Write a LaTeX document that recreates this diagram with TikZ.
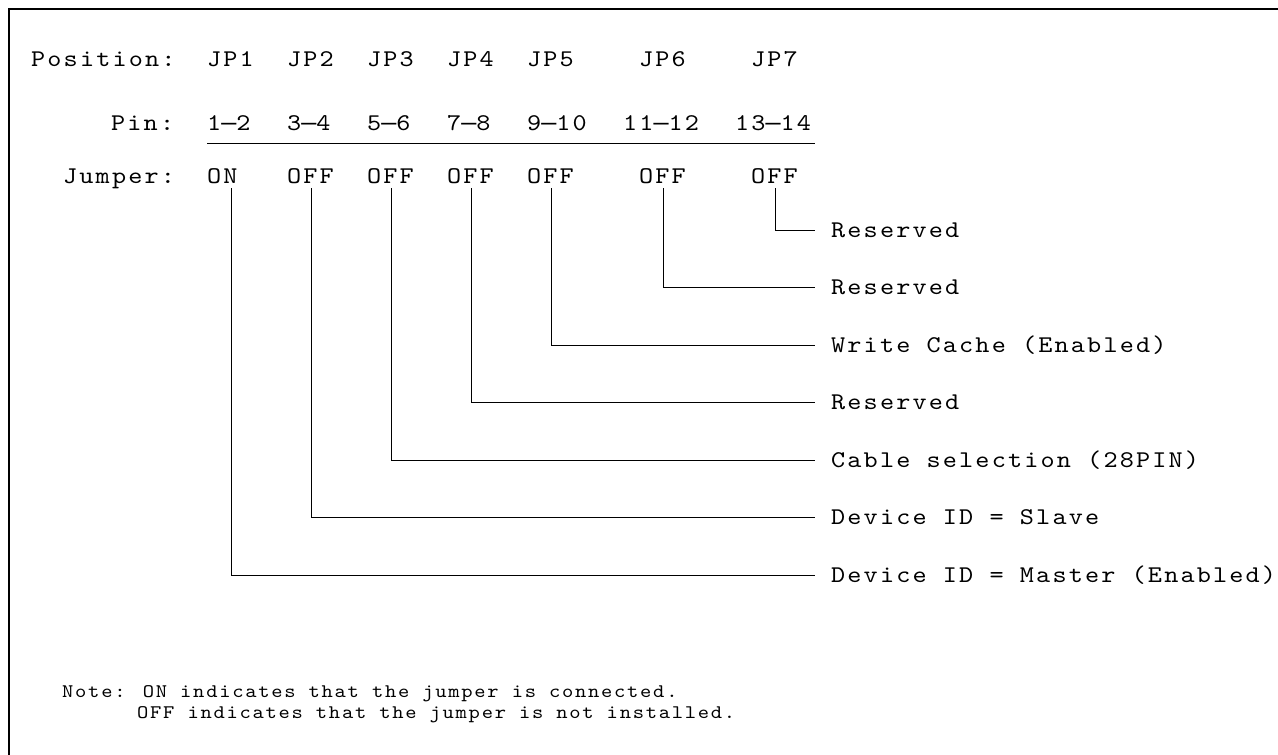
\documentclass[tikz,border=0pt]{standalone}
\usepackage{fontspec}
\newfontfamily\mono[FakeStretch=1.12,LetterSpace=9]{lmmono10-regular.otf}
\newfontfamily\dashfont[LetterSpace=1.5]{Liberation Mono}
\newcommand{\jdash}{{\dashfont\fontsize{25}{25}\selectfont —}}
\begin{document}
\begin{tikzpicture}[x=1pt,y=-1pt,
  txt/.style={font=\mono\fontsize{24}{24}\selectfont, inner sep=0pt, anchor=base west},
  lbl/.style={font=\mono\fontsize{24}{24}\selectfont, anchor=west, inner ysep=0pt, inner xsep=16pt, text height=14.5pt, text depth=0pt},
  notetxt/.style={font=\mono\fontsize{19.2}{19.2}\selectfont, inner sep=0pt, anchor=base west},
  wire/.style={draw, line width=1pt},
  frame/.style={draw, line width=2pt}]
\useasboundingbox (0,0) rectangle (1278,755);
\draw[frame] (9,756) -- (9,9) -- (1279,9);
% header rows
\node[txt] (pos) at (31,66) {Position:};
\node[txt] (jp1) at (207,66) {JP1};
\node[txt] (jp2) at (287,66) {JP2};
\node[txt] (jp3) at (367,66) {JP3};
\node[txt] (jp4) at (447,66) {JP4};
\node[txt] (jp5) at (527,66) {JP5};
\node[txt] (jp6) at (639,66) {JP6};
\node[txt] (jp7) at (751,66) {JP7};
\node[txt] (pin) at (111,130) {Pin:};
\node[txt] (p1) at (207,130) {1\jdash 2};
\node[txt] (p2) at (287,130) {3\jdash 4};
\node[txt] (p3) at (367,130) {5\jdash 6};
\node[txt] (p4) at (447,130) {7\jdash 8};
\node[txt] (p5) at (527,130) {9\jdash 10};
\node[txt] (p6) at (623,130) {11\jdash 12};
\node[txt] (p7) at (735,130) {13\jdash 14};
\coordinate (sepL) at (207,143);
\coordinate (sepR) at (815,143);
\draw[wire] (sepL) -- (sepR);
\node[txt] (jmp) at (63,183) {Jumper:};
\node[txt] (j1) at (207,183) {ON};
\node[txt] (j2) at (287,183) {OFF};
\node[txt] (j3) at (367,183) {OFF};
\node[txt] (j4) at (447,183) {OFF};
\node[txt] (j5) at (527,183) {OFF};
\node[txt] (j6) at (639,183) {OFF};
\node[txt] (j7) at (751,183) {OFF};
% labels
\node[lbl] (l7) at (815,230) {Reserved};
\node[lbl] (l6) at (815,287.5) {Reserved};
\node[lbl] (l5) at (815,345) {Write Cache (Enabled)};
\node[lbl] (l4) at (815,402.5) {Reserved};
\node[lbl] (l3) at (815,460) {Cable selection (28PIN)};
\node[lbl] (l2) at (815,517.5) {Device ID = Slave};
\node[lbl] (l1) at (815,575) {Device ID = Master (Enabled)};
% connector tops
\coordinate (v1) at (231,188);
\coordinate (v2) at (311,188);
\coordinate (v3) at (391,188);
\coordinate (v4) at (471,188);
\coordinate (v5) at (551,188);
\coordinate (v6) at (663,188);
\coordinate (v7) at (775,188);
\foreach \k in {1,...,7} {\draw[wire] (v\k) |- (l\k.west);}
% note
\node[notetxt] (n1) at (62,697) {Note: ON indicates that the jumper is connected.};
\node[notetxt] (n2) at (137,718) {OFF indicates that the jumper is not installed.};
\end{tikzpicture}
\end{document}
